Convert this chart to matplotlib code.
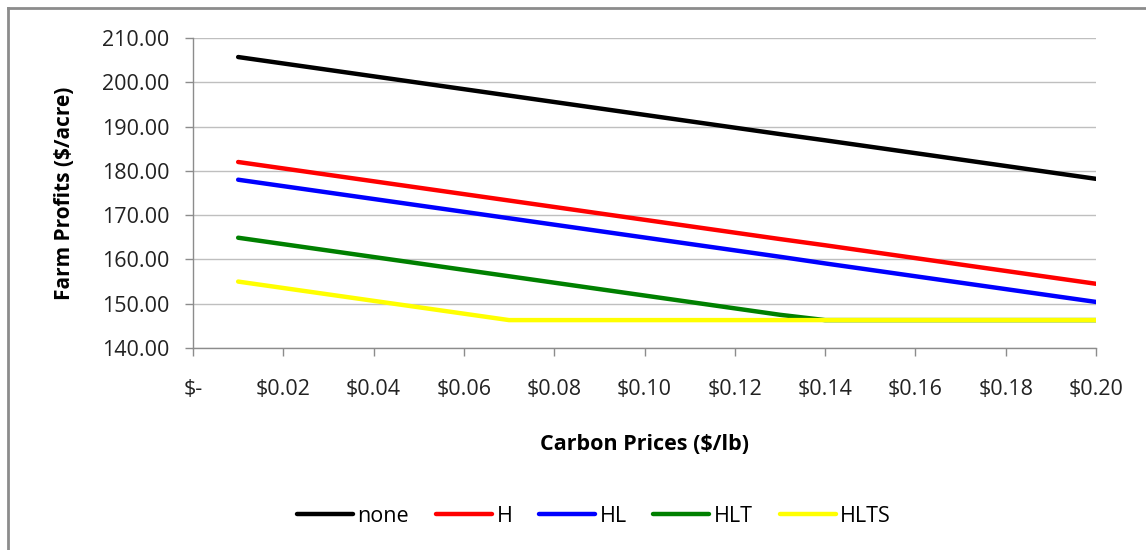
import matplotlib.pyplot as plt
from matplotlib.lines import Line2D
from matplotlib.ticker import FuncFormatter

# Carbon prices ($/lb) where the profit curves change direction
prices = [0.01, 0.07, 0.13, 0.14, 0.20]

# Farm profits ($/acre) for each practice set
none_vals = [205.7, 197.0, 188.3, 186.9, 178.2]
h_vals = [182.0, 173.3, 164.6, 163.2, 154.5]
hl_vals = [178.0, 169.3, 160.6, 159.1, 150.4]
hlt_vals = [164.9, 156.2, 147.5, 146.3, 146.3]
hlts_vals = [155.0, 146.3, 146.3, 146.3, 146.3]

labels = ['none', 'H', 'HL', 'HLT', 'HLTS']
colors = ['black', '#ff0000', '#0000ff', '#008000', '#ffff00']

plt.rcParams['font.family'] = ['Open Sans', 'DejaVu Sans']

fig = plt.figure(figsize=(11.46, 5.5), dpi=100)
ax = fig.add_axes([193 / 1146, 1 - 348 / 550, 903 / 1146, 310 / 550])

series = [none_vals, h_vals, hl_vals, hlt_vals, hlts_vals]
for vals, lab, c in zip(series, labels, colors):
    ax.plot(prices, vals, color=c, lw=3.2, label=lab, solid_capstyle='round', zorder=3)

ax.set_xlim(0, 0.20)
ax.set_ylim(140, 210)
ax.set_xticks([i * 0.02 for i in range(11)])
ax.set_yticks(range(140, 211, 10))

def money(v, pos):
    if abs(v) < 1e-9:
        return '$-'
    return '${:.2f}'.format(v)

ax.xaxis.set_major_formatter(FuncFormatter(money))
ax.yaxis.set_major_formatter(FuncFormatter(lambda v, p: '{:.2f}'.format(v)))

ax.grid(axis='y', color='#bfbfbf', lw=1)
ax.set_axisbelow(True)
for s in ['top', 'right']:
    ax.spines[s].set_visible(False)
for s in ['left', 'bottom']:
    ax.spines[s].set_color('#8c8c8c')
    ax.spines[s].set_linewidth(1)
ax.tick_params(axis='both', colors='#8c8c8c', labelcolor='#222222', labelsize=15.5, length=6, width=1)
ax.tick_params(axis='x', pad=16)
ax.tick_params(axis='y', pad=11)

ax.set_xlabel('Carbon Prices ($/lb)', fontsize=15.5, fontweight='bold', labelpad=25)
ax.set_ylabel('Farm Profits ($/acre)', fontsize=15, fontweight='bold', labelpad=19)

handles = [Line2D([], [], color=c, lw=3.2, solid_capstyle='round') for c in colors]
fig.legend(handles, labels, loc='center', bbox_to_anchor=(594 / 1146, 1 - 516 / 550),
           ncol=5, frameon=False, fontsize=15.5, handlelength=2.6, handletextpad=0.2,
           columnspacing=1.25)

# chart border
fig.add_artist(Line2D([8 / 1146, 1], [1 - 8 / 550, 1 - 8 / 550], color='#8c8c8c', lw=2,
                      transform=fig.transFigure))
fig.add_artist(Line2D([8 / 1146, 8 / 1146], [1 - 8 / 550, 0], color='#8c8c8c', lw=2,
                      transform=fig.transFigure))

fig.savefig('out.png', dpi=100)
